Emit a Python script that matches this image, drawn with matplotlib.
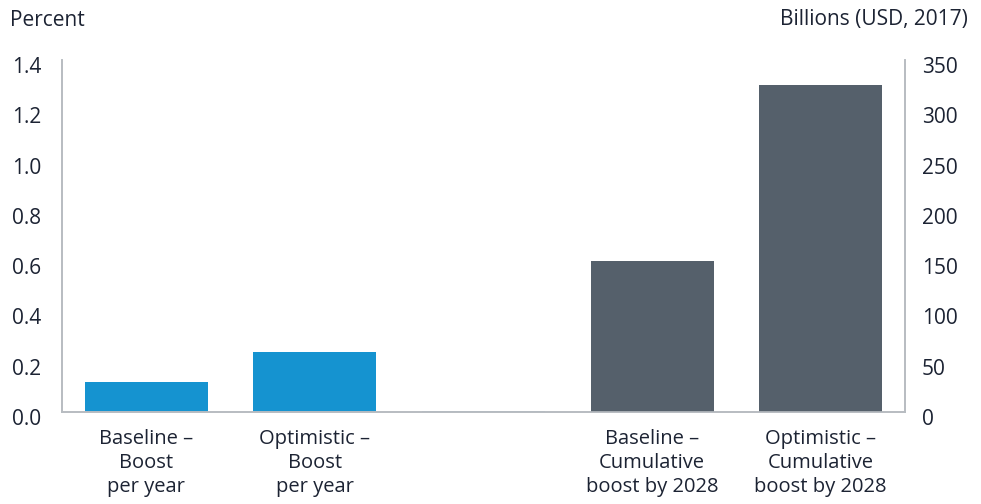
import matplotlib.pyplot as plt
import matplotlib.transforms as mtransforms

categories = ['Baseline \u2013\nBoost\nper year', 'Optimistic \u2013\nBoost\nper year', '',
              'Baseline \u2013\nCumulative\nboost by 2028', 'Optimistic \u2013\nCumulative\nboost by 2028']
percent_values = [0.12, 0.24]          # left axis, percent
billions_values = [150, 325]           # right axis, billions USD 2017
left_ticks = [0.0, 0.2, 0.4, 0.6, 0.8, 1.0, 1.2, 1.4]
right_ticks = [0, 50, 100, 150, 200, 250, 300, 350]

blue = '#1593d0'
grey = '#55606b'
text_col = '#1c2333'
axis_col = '#b7bcc1'

plt.rcParams['font.family'] = ['Open Sans', 'DejaVu Sans']

fig = plt.figure(figsize=(9.81, 5.04), dpi=100)
ax = fig.add_axes([62 / 981, 92 / 504, 843 / 981, 352 / 504])
ax2 = ax.twinx()

x = list(range(len(categories)))
w = 0.73
ax.bar(x[:2], percent_values, width=w, color=blue)
ax.bar(x[2], 0.002, width=w, color='#8fb4cc')
ax2.bar(x[3:], billions_values, width=w, color=grey)

ax.set_xlim(-0.5, 4.5)
ax.set_ylim(0, 1.4)
ax2.set_ylim(0, 350)
ax.set_yticks(left_ticks)
ax.set_yticklabels(['%.1f' % t for t in left_ticks])
ax2.set_yticks(right_ticks)
ax.set_xticks(x)
ax.set_xticklabels(categories, linespacing=1.28, fontsize=14.5)

for a in (ax, ax2):
    a.spines['top'].set_visible(False)
    for s in ('left', 'right', 'bottom'):
        a.spines[s].set_color(axis_col)
        a.spines[s].set_linewidth(1.2)
    a.tick_params(axis='y', length=0, labelsize=15, colors=text_col)
ax.tick_params(axis='x', length=0, colors=text_col, pad=12)
ax.tick_params(axis='y', pad=15)
ax2.tick_params(axis='y', pad=12)

# nudge y labels slightly down like the original
off = mtransforms.ScaledTranslation(0, -5 / 100, fig.dpi_scale_trans)
for lab in ax.get_yticklabels() + ax2.get_yticklabels():
    lab.set_transform(lab.get_transform() + off)

fig.text(10 / 981, 1 - 20 / 504, 'Percent', fontsize=15, color=text_col, va='center', ha='left')
fig.text(968 / 981, 1 - 20 / 504, 'Billions (USD, 2017)', fontsize=15, color=text_col,
         va='center', ha='right')

fig.savefig('out.png', dpi=100)
